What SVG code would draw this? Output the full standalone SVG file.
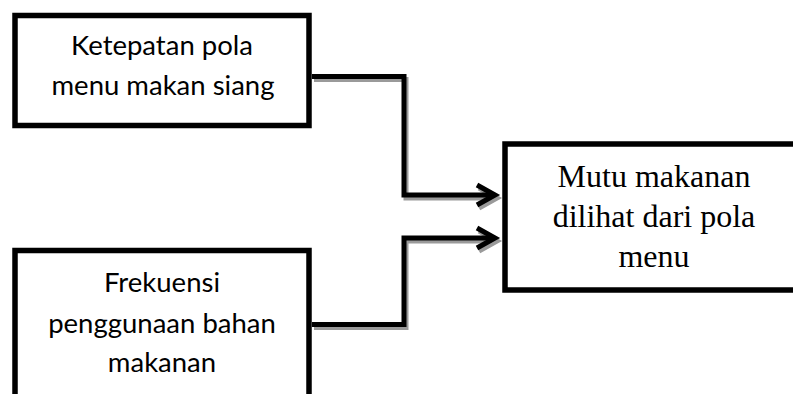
<svg xmlns="http://www.w3.org/2000/svg" width="793" height="394" viewBox="0 0 793 394">
<style>
.box{fill:#fff;stroke:#000;stroke-width:5.5}
.ln{fill:none;stroke:#000;stroke-width:5;stroke-linejoin:miter;stroke-linecap:butt}
.sh{fill:none;stroke:#9a9a9a;stroke-width:5;stroke-linejoin:miter}
.cal{font-family:Lato,"Open Sans",sans-serif;font-size:27.5px;fill:#000;text-anchor:middle}
.tnr{font-family:"Liberation Serif",serif;font-size:32px;fill:#000;text-anchor:middle}
</style>
<rect width="793" height="394" fill="#fff"/>
<g id="connectors">
  <g transform="translate(2,3)">
    <path class="sh" d="M312 76.5 H404 V195 H495"/>
    <path class="sh" d="M477 185 L495 195 L477 205"/>
    <path class="sh" d="M312 324.5 H404 V238 H495"/>
    <path class="sh" d="M477 228 L495 238 L477 248"/>
  </g>
  <path class="ln" d="M312 76.5 H404 V195 H495"/>
  <path class="ln" d="M477 185 L495 195 L477 205"/>
  <path class="ln" d="M312 324.5 H404 V238 H495"/>
  <path class="ln" d="M477 228 L495 238 L477 248"/>
</g>
<g id="node1">
  <rect class="box" x="15" y="15.5" width="294" height="110"/>
  <text class="cal" x="162" y="55">Ketepatan pola</text>
  <text class="cal" x="163" y="95">menu makan siang</text>
</g>
<g id="node2">
  <path class="box" d="M15 420 V250.5 H309 V420"/>
  <text class="cal" x="162" y="292">Frekuensi</text>
  <text class="cal" x="162" y="333">penggunaan bahan</text>
  <text class="cal" x="162" y="372">makanan</text>
</g>
<g id="node3">
  <path class="box" d="M900 144 H505 V290 H900"/>
  <text class="tnr" x="654" y="187">Mutu makanan</text>
  <text class="tnr" x="654" y="227">dilihat dari pola</text>
  <text class="tnr" x="654" y="267">menu</text>
</g>
</svg>
